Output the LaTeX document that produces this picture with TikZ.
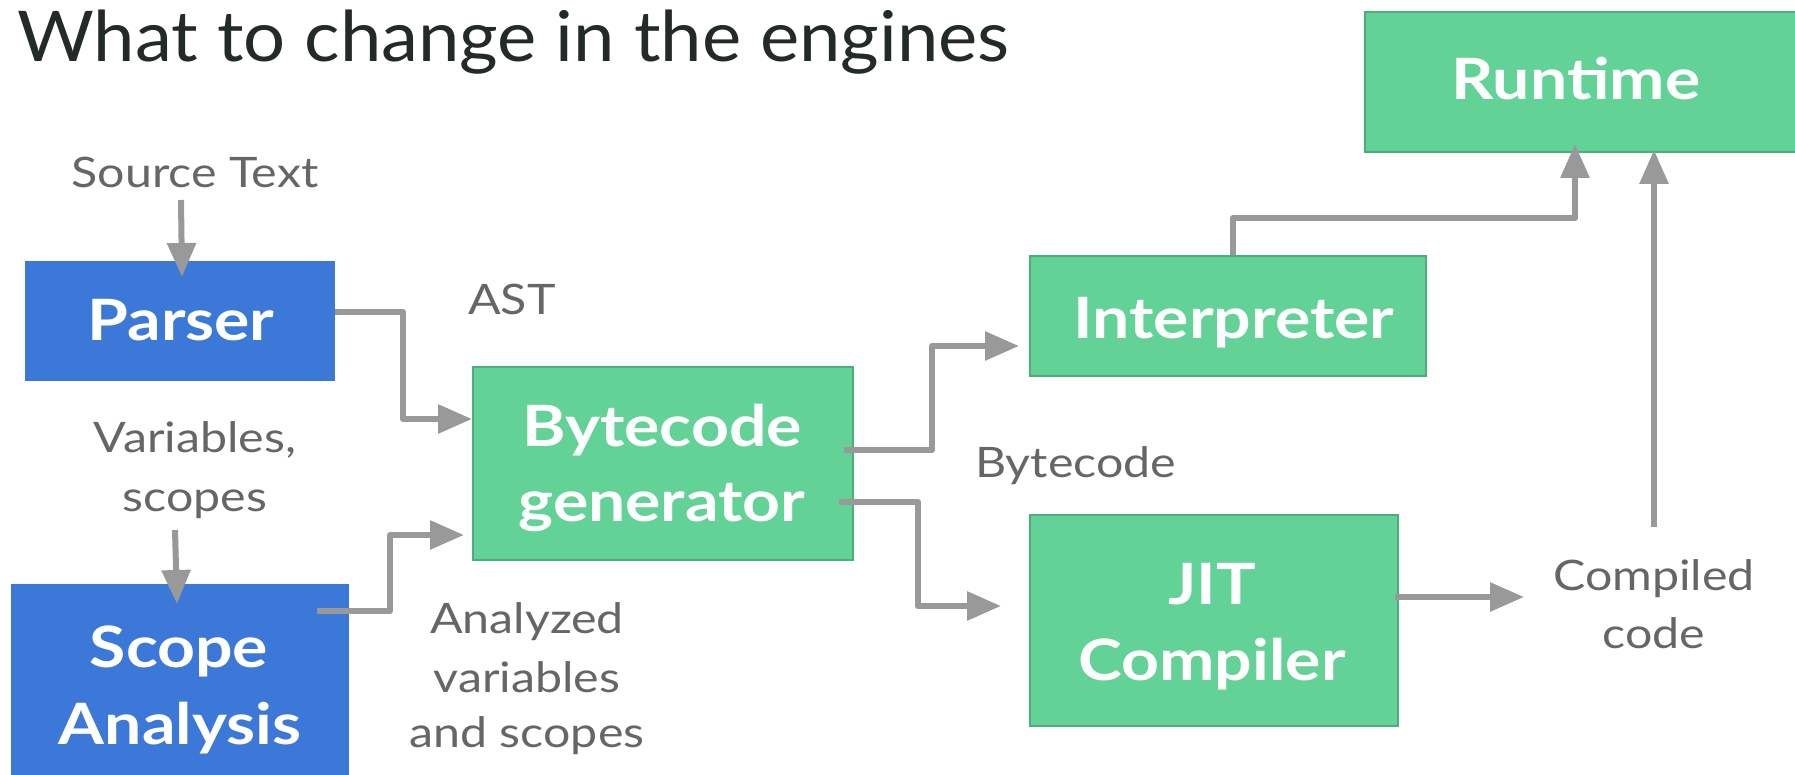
\documentclass[tikz,border=0pt]{standalone}
\usepackage{fontspec}
\setmainfont{Lato}
\newfontfamily\boxfont[FakeStretch=1.16]{Lato}
\newfontfamily\lblfont[FakeStretch=1.15]{Lato}
\newfontfamily\titlefont[FakeStretch=1.06]{Lato}
\usetikzlibrary{arrows.meta,calc}
\definecolor{sblue}{HTML}{3C78D8}
\definecolor{sgreen}{HTML}{63D297}
\definecolor{sgreenb}{HTML}{4DAE7B}
\definecolor{agray}{HTML}{999999}
\definecolor{lgray}{HTML}{666666}
\definecolor{tdark}{HTML}{222A2A}
\tikzset{
 bluebox/.style={fill=sblue, draw=none, inner sep=0pt, anchor=north west},
 greenbox/.style={fill=sgreen, draw=sgreenb, line width=2pt, inner sep=0pt, anchor=north west},
 boxtxt/.style={text=white, font=\boxfont\fontsize{57}{60}\selectfont\bfseries, anchor=base, inner sep=0pt},
 lbl/.style={text=lgray, font=\lblfont\fontsize{42}{50}\selectfont, anchor=base, inner sep=0pt},
 arr/.style={draw=agray, line width=6pt, line join=round, -{Triangle[length=34pt,width=28pt]}},
}
\begin{document}
\begin{tikzpicture}[x=1pt,y=-1pt]
\useasboundingbox (0,0) rectangle (1795,775);
\clip (0,0) rectangle (1795,775);
\fill[white] (0,0) rectangle (1795,775);
% title
\node[anchor=base west, inner sep=0pt, text=tdark, font=\titlefont\fontsize{70}{80}\selectfont] (title) at (17,62) {What to change in the engines};
% boxes
\node[bluebox, minimum width=310pt, minimum height=120pt] (parser) at (25,261) {};
\node[bluebox, minimum width=338pt, minimum height=200pt] (scope) at (11,584) {};
\node[greenbox, minimum width=380pt, minimum height=193pt] (bytecode) at (472,366) {};
\node[greenbox, minimum width=396pt, minimum height=120pt] (interp) at (1029,255) {};
\node[greenbox, minimum width=368pt, minimum height=211pt] (jit) at (1029,514) {};
\node[greenbox, minimum width=440pt, minimum height=140pt] (runtime) at (1364,11) {};
% box texts
\node[boxtxt] (parserT) at (181,341) {Parser};
\node[boxtxt] (scopeT1) at (179,667) {Scope};
\node[boxtxt] (scopeT2) at (180,744) {Analysis};
\node[boxtxt] (bcT1) at (662,446) {Bytecode};
\node[boxtxt] (bcT2) at (662,521) {generator};
\node[boxtxt] (interpT) at (1234,338) {Interpreter};
\node[boxtxt] (jitT1) at (1212,604) {JIT};
\node[boxtxt] (jitT2) at (1212,680) {Compiler};
\node[boxtxt] (runtimeT) at (1576,100) {Runtime};
% labels
\node[lbl] (src) at (195,188) {Source Text};
\node[lbl] (var1) at (195,452) {Variables,};
\node[lbl] (var2) at (195,511) {scopes};
\node[lbl] (ast) at (512,315) {AST};
\node[lbl] (an1) at (527,633) {Analyzed};
\node[lbl] (an2) at (527,692) {variables};
\node[lbl] (an3) at (527,747) {and scopes};
\node[lbl, anchor=base west] (bcl) at (975,477) {Bytecode};
\node[lbl] (cc1) at (1654,590) {Compiled};
\node[lbl] (cc2) at (1654,648) {code};
% free ends
\coordinate (srcA) at (181,200);
\coordinate (varA) at (175,530);
\coordinate (ccA) at (1524,597);
\coordinate (ccB) at (1654,527);
% connectors
\draw[arr] (srcA) -- ($(parser.north -| 182,0)+(0,16)$);
\draw[arr] (parser.east |- 0,312) -- (403,312) |- (bytecode.west |- 0,419);
\draw[arr] (varA) -- ($(scope.north -| 177,0)+(0,20)$);
\draw[arr] ($(scope.east |- 0,611)+(-32,0)$) -- (390,611) |- ($(bytecode.west |- 0,535)+(-8,0)$);
\draw[arr] ($(bytecode.east |- 0,450)+(-10,0)$) -- (932,450) |- ($(interp.west |- 0,346)+(-10,0)$);
\draw[arr] ($(bytecode.east |- 0,502)+(-15,0)$) -- (918,502) |- ($(jit.west |- 0,606)+(-28,0)$);
\draw[arr] (interp.north -| 1233,0) |- (1575,218) -- ($(runtime.south -| 1575,0)+(0,-9)$);
\draw[arr] ($(jit.east |- 0,597)+(-4,0)$) -- (ccA);
\draw[arr] (ccB) -- ($(runtime.south -| ccB)+(0,-3)$);
\end{tikzpicture}
\end{document}
